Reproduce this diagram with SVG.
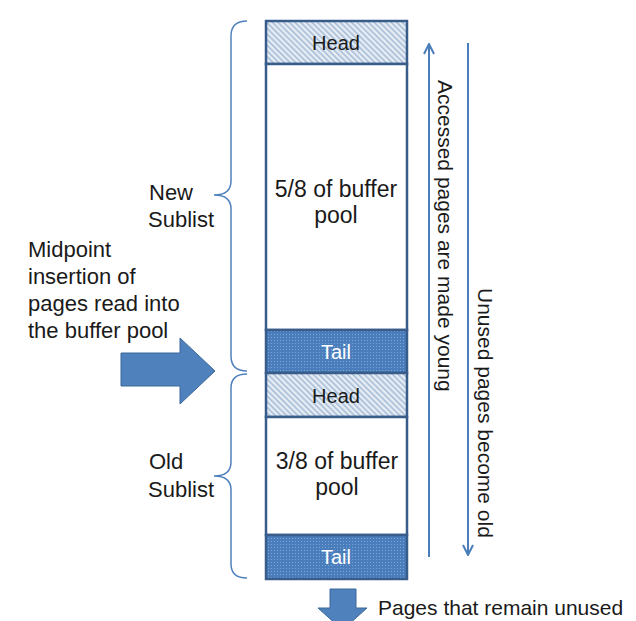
<svg xmlns="http://www.w3.org/2000/svg" width="636" height="621" viewBox="0 0 636 621">
  <defs>
    <pattern id="hatch" width="4" height="4" patternUnits="userSpaceOnUse" patternTransform="rotate(-45)">
      <rect width="4" height="4" fill="#e6edf5"/>
      <rect x="0" y="0" width="1.5" height="4" fill="#a3b9d4"/>
    </pattern>
    <pattern id="dots" width="3" height="3" patternUnits="userSpaceOnUse">
      <rect width="3" height="3" fill="#4a7dbb"/>
      <rect x="1" y="1" width="1" height="1" fill="#7fa3d2"/>
    </pattern>
    <marker id="open" viewBox="0 0 12 12" refX="11" refY="6" markerWidth="12" markerHeight="12" markerUnits="userSpaceOnUse" orient="auto">
      <path d="M1,1 L11,6 L1,11" fill="none" stroke="#4a7ebb" stroke-width="2"/>
    </marker>
  </defs>
  <style>
    text { font-family: "Liberation Sans", Arial, sans-serif; fill: #1a1a1a; }
    .box { stroke: #385d8a; stroke-width: 2.5; }
    .lbl { font-size: 22px; }
    .mid { font-size: 23px; text-anchor: middle; }
    .ht { font-size: 20px; text-anchor: middle; }
    .tl { fill: #ffffff; }
    .rot { font-size: 21px; }
    .brace { fill: none; stroke: #4f81bd; stroke-width: 1.5; }
    .big { fill: #4f81bd; stroke: #3c6899; stroke-width: 1; }
    .flow { stroke: #4a7ebb; stroke-width: 2; fill: none; }
  </style>

  <g id="head1">
    <rect class="box" x="266" y="21" width="141" height="43" fill="url(#hatch)"/>
    <text class="ht" x="336" y="50">Head</text>
  </g>
  <g id="new-body">
    <rect class="box" x="266" y="64" width="141" height="266" fill="#ffffff"/>
    <text class="mid" x="336" y="197">5/8 of buffer</text>
    <text class="mid" x="336" y="223">pool</text>
  </g>
  <g id="tail1">
    <rect class="box" x="266" y="330" width="141" height="43" fill="url(#dots)"/>
    <text class="ht tl" x="336" y="359">Tail</text>
  </g>
  <g id="head2">
    <rect class="box" x="266" y="373" width="141" height="44" fill="url(#hatch)"/>
    <text class="ht" x="336" y="403">Head</text>
  </g>
  <g id="old-body">
    <rect class="box" x="266" y="417" width="141" height="118" fill="#ffffff"/>
    <text class="mid" x="337" y="469">3/8 of buffer</text>
    <text class="mid" x="337" y="495">pool</text>
  </g>
  <g id="tail2">
    <rect class="box" x="266" y="535" width="141" height="44" fill="url(#dots)"/>
    <text class="ht tl" x="336" y="564">Tail</text>
  </g>

  <g id="new-sublist">
    <path class="brace" d="M247,21 Q231,21 231,36 L231,181 Q231,195 214,195 Q231,195 231,209 L231,356 Q231,371 247,371"/>
    <text class="lbl" x="149" y="200">New</text>
    <text class="lbl" x="148" y="227">Sublist</text>
  </g>
  <g id="old-sublist">
    <path class="brace" d="M247,374 Q231,374 231,388 L231,462 Q231,476 214,476 Q231,476 231,490 L231,564 Q231,578 247,578"/>
    <text class="lbl" x="149" y="469">Old</text>
    <text class="lbl" x="148" y="497">Sublist</text>
  </g>

  <g id="midpoint">
    <text class="lbl" x="28" y="257">Midpoint</text>
    <text class="lbl" x="28" y="284">insertion of</text>
    <text class="lbl" x="28" y="311">pages read into</text>
    <text class="lbl" x="28" y="338">the buffer pool</text>
    <path class="big" d="M121,353 L180,353 L180,338 L215,371 L180,404 L180,386 L121,386 Z"/>
  </g>

  <g id="unused-out">
    <path class="big" d="M330,589 L356,589 L356,608 L367,608 L342.5,630 L318,608 L330,608 Z"/>
    <text class="lbl" x="378" y="615" style="font-size:21px">Pages that remain unused</text>
  </g>

  <g id="connectors">
    <line class="flow" x1="429" y1="557" x2="429" y2="44" marker-end="url(#open)"/>
    <line class="flow" x1="468" y1="43" x2="468" y2="555" marker-end="url(#open)"/>
  </g>

  <g id="flow-labels">
    <text class="rot" transform="translate(438,80) rotate(90)">Accessed pages are made young</text>
    <text class="rot" transform="translate(478,288) rotate(90)">Unused pages become old</text>
  </g>
</svg>
